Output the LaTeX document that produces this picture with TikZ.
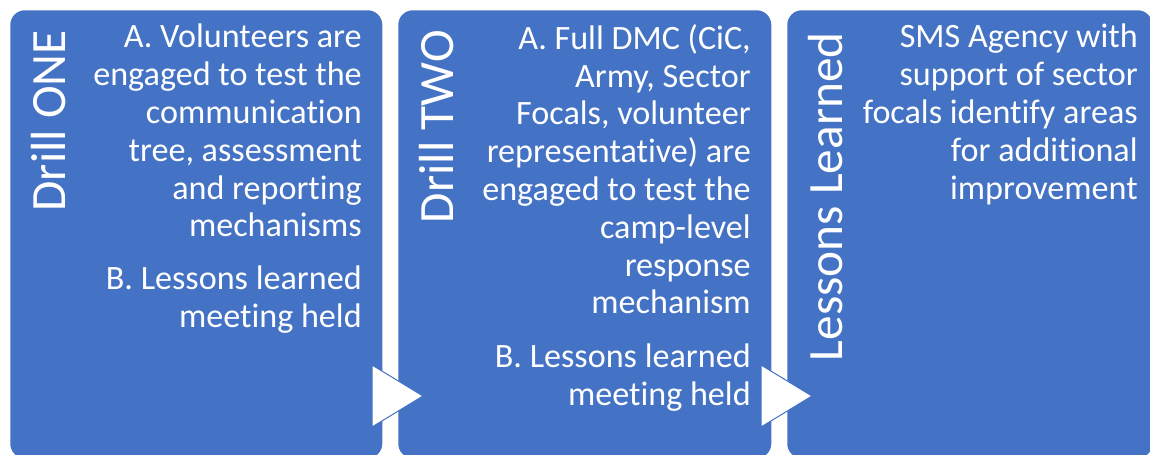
\documentclass[tikz,border=0pt]{standalone}
\usepackage{fontspec}
\setmainfont{Carlito}[Ligatures=NoCommon]
\definecolor{boxblue}{HTML}{4472C4}
\begin{document}
\begin{tikzpicture}[x=0.75pt, y=-0.75pt,
    panel/.style={fill=boxblue, rounded corners=11pt, inner sep=0pt,
      minimum height=336pt, anchor=north west},
    title/.style={rotate=90, anchor=base east, inner sep=0pt, text=white,
      font=\fontsize{37}{44}\selectfont},
    body/.style={anchor=north east, inner sep=0pt, align=right, text=white,
      font=\fontsize{25.6}{28.35}\selectfont},
    chevron/.style={fill=white, draw=boxblue, line width=0.75pt, line join=miter}]
  \useasboundingbox (0,0) rectangle (1150,454);
  \clip (0,0) rectangle (1150,454);

  % the three stages
  \node[panel, minimum width=279pt] (drill1) at (10,10) {};
  \node[panel, minimum width=279.75pt] (drill2) at (398,10) {};
  \node[panel, minimum width=273.75pt] (learned) at (787,10) {};

  % arrows between the stages
  \filldraw[chevron] (372,365) -- (423,396) -- (372,427) -- cycle;
  \filldraw[chevron] (761,365) -- (812,396) -- (761,427) -- cycle;

  % stage titles
  \node[title] (t1) at (65,30) {Drill ONE};
  \node[title] (t2) at (453,30) {Drill TWO};
  \node[title] (t3) at (842,32) {Lessons Learned};

  % stage texts
  \node[body] (b1) at (362,24) {A. Volunteers are\\ engaged to test the\\
    communication\\ tree, assessment\\ and reporting\\ mechanisms\\[11.4pt]
    B. Lessons learned\\ meeting held};
  \node[body] (b2) at (751,24) {A. Full DMC (CiC,\\ Army, Sector\\
    Focals, volunteer\\ representative) are\\ engaged to test the\\
    camp-level\\ response\\ mechanism\\[11.8pt]
    B. Lessons learned\\ meeting held};
  \node[body] (b3) at (1138,24) {SMS Agency with\\ support of sector\\
    focals identify areas\\ for additional\\ improvement};
\end{tikzpicture}
\end{document}
